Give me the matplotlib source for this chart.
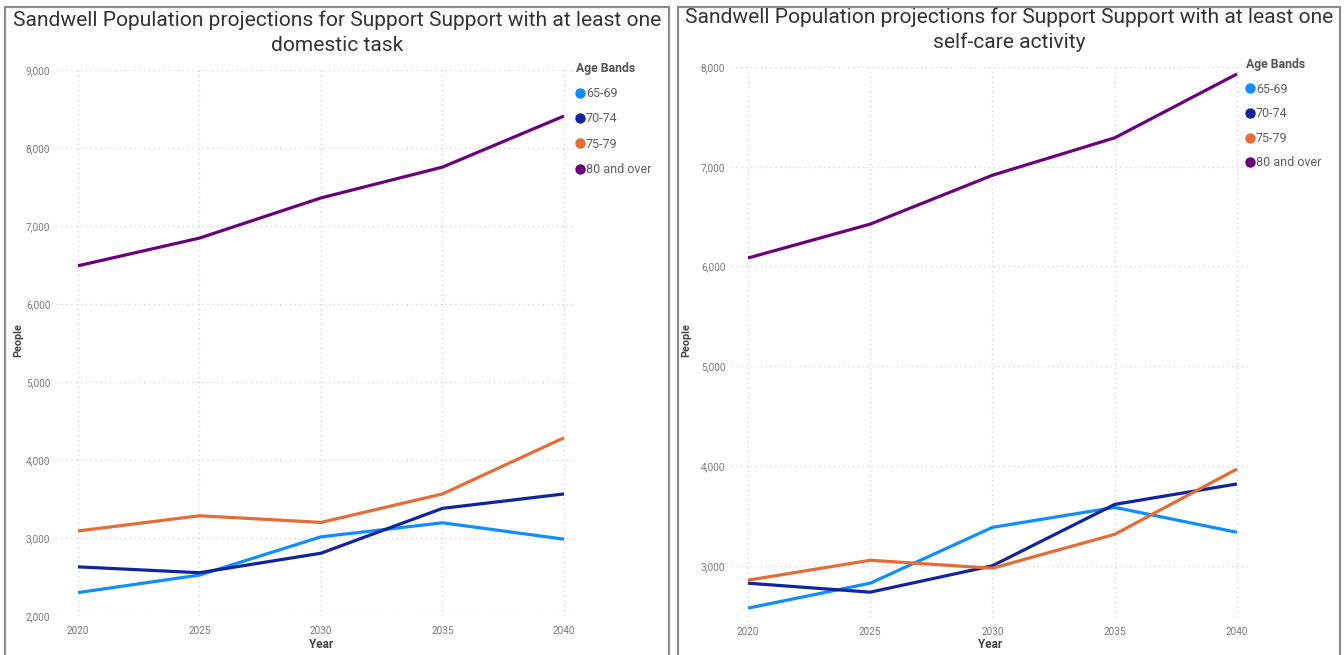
import matplotlib
matplotlib.use("Agg")
import matplotlib.pyplot as plt
from matplotlib.lines import Line2D
from matplotlib.patches import Rectangle

plt.rcParams['font.family'] = ['Roboto', 'DejaVu Sans']

years = [2020, 2025, 2030, 2035, 2040]
age_bands = ['65-69', '70-74', '75-79', '80 and over']
band_colors = ['#118DFF', '#12239E', '#E66C37', '#6B007B']

# people needing help with at least one domestic task
domestic_65_69 = [2300, 2525, 3015, 3195, 2985]
domestic_70_74 = [2630, 2555, 2805, 3380, 3565]
domestic_75_79 = [3090, 3285, 3200, 3565, 4285]
domestic_80_plus = [6490, 6845, 7360, 7755, 8410]

# people needing help with at least one self-care activity
selfcare_65_69 = [2575, 2825, 3385, 3585, 3335]
selfcare_70_74 = [2825, 2735, 3000, 3615, 3820]
selfcare_75_79 = [2855, 3055, 2975, 3315, 3970]
selfcare_80_plus = [6085, 6425, 6915, 7290, 7930]

W, H = 1344, 655
fig = plt.figure(figsize=(W / 100, H / 100), dpi=100)


def fx(px):
    return px / W


def fy(py):
    return 1 - py / H


def panel(x0, x1, ax_box, xlim, ylim, yticks, series, title, title_x, title_y,
          people_x, year_x, legend_xy, legend_gap):
    fig.add_artist(Rectangle((fx(x0), -0.02), fx(x1 - x0), fy(7) + 0.02,
                             transform=fig.transFigure, fill=False,
                             edgecolor='#8c8c8c', lw=1.6))
    left, top, right, bottom = ax_box
    ax = fig.add_axes([fx(left), fy(bottom), fx(right - left), (bottom - top) / H])
    for vals, c in zip(series, band_colors):
        ax.plot(years, vals, color=c, lw=2.3, solid_capstyle='butt')
    ax.set_xlim(*xlim)
    ax.set_ylim(*ylim)
    ax.set_xticks(years)
    ax.set_yticks(yticks)
    ax.set_yticklabels([f'{v:,}' for v in yticks])
    ax.grid(True, color='#d6d6d6', linestyle=(0, (1, 2.5)), lw=1.0)
    ax.tick_params(length=0, labelsize=7.2, labelcolor='#7a7a7a')
    ax.tick_params(axis='x', pad=7)
    ax.tick_params(axis='y', pad=4)
    for s in ax.spines.values():
        s.set_visible(False)

    fig.text(fx(title_x), fy(title_y), title, ha='center', va='center',
             fontsize=15.1, color='#333333', linespacing=1.38)
    fig.text(fx(people_x), fy(340), 'People', rotation=90, ha='center',
             va='center', fontsize=7.8, fontweight='bold', color='#444444')
    fig.text(fx(year_x), fy(645), 'Year', ha='center', va='center',
             fontsize=8.5, fontweight='bold', color='#444444')

    handles = [Line2D([], [], marker='o', ls='none', color=c, markersize=6.5)
               for c in band_colors]
    fig.legend(handles, age_bands, title='Age Bands', loc='upper left',
               bbox_to_anchor=(fx(legend_xy[0]), fy(legend_xy[1])),
               frameon=False, fontsize=9, labelcolor='#605e5c',
               title_fontproperties={'weight': 'bold', 'size': 8.8},
               alignment='left', handlelength=0.6, handletextpad=0.2,
               labelspacing=legend_gap, borderpad=0, borderaxespad=0)
    fig.legends[-1].get_title().set_color('#555555')
    return ax


panel(5, 669, (56, 70, 575, 616), (2019.095, 2040.453), (2000, 9000),
      [2000, 3000, 4000, 5000, 6000, 7000, 8000, 9000],
      [domestic_65_69, domestic_70_74, domestic_75_79, domestic_80_plus],
      'Sandwell Population projections for Support Support with at least one\n'
      'domestic task', 337, 33, 18, 321, (576, 62), 0.98)

panel(678, 1340, (731, 67, 1248, 617), (2019.305, 2040.45), (2486, 8000),
      [3000, 4000, 5000, 6000, 7000, 8000],
      [selfcare_65_69, selfcare_70_74, selfcare_75_79, selfcare_80_plus],
      'Sandwell Population projections for Support Support with at least one\n'
      'self-care activity', 1009, 30, 686, 990, (1246, 58), 0.93)

fig.savefig('out.png', dpi=100)
